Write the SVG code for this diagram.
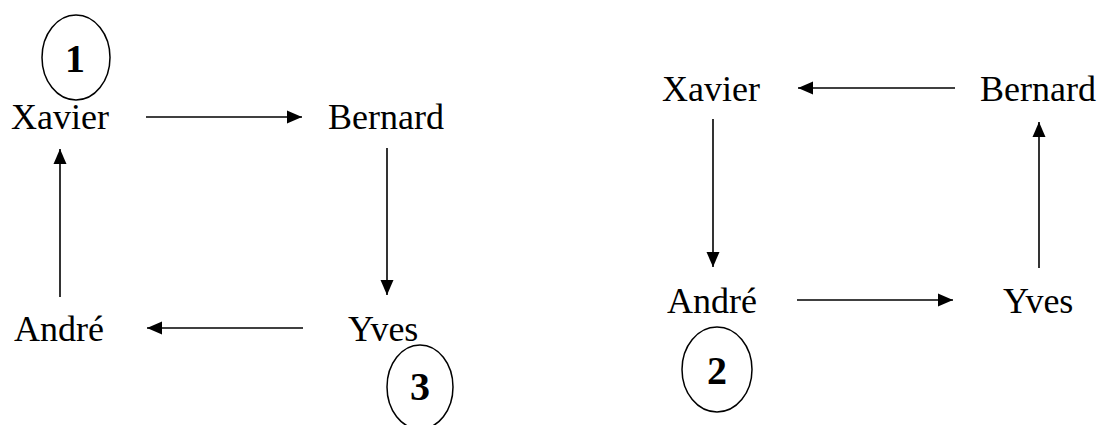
<svg xmlns="http://www.w3.org/2000/svg" width="1100" height="425" viewBox="0 0 1100 425">
<style>
.n{font-family:"Liberation Serif","Times New Roman",serif;font-size:36px;fill:#000}
.d{font-family:"Liberation Serif","Times New Roman",serif;font-size:40px;font-weight:bold;fill:#000;text-anchor:middle}
.c{fill:none;stroke:#000;stroke-width:1.5}
.e{stroke:#000;stroke-width:1.6;fill:none;marker-end:url(#ah)}
</style>
<defs>
<marker id="ah" markerUnits="userSpaceOnUse" markerWidth="16" markerHeight="14" refX="15" refY="7" orient="auto">
<path d="M0,0.5 L15,7 L0,13.5 Z" fill="#000"/>
</marker>
</defs>
<rect width="1100" height="425" fill="#fff"/>
<g id="left-xavier"><text class="n" x="11" y="129">Xavier</text></g>
<g id="left-bernard"><text class="n" x="328" y="129">Bernard</text></g>
<g id="left-andre"><text class="n" x="14" y="341">André</text></g>
<g id="left-yves"><text class="n" x="348" y="341">Yves</text></g>
<g id="badge-1"><ellipse class="c" cx="76" cy="57.5" rx="34" ry="42.5"/><text class="d" x="75" y="72">1</text></g>
<g id="badge-3"><ellipse class="c" cx="420" cy="387" rx="33" ry="42"/><text class="d" x="420" y="400">3</text></g>
<g id="right-xavier"><text class="n" x="662" y="101">Xavier</text></g>
<g id="right-bernard"><text class="n" x="980" y="101">Bernard</text></g>
<g id="right-andre"><text class="n" x="667" y="313">André</text></g>
<g id="right-yves"><text class="n" x="1003" y="313">Yves</text></g>
<g id="badge-2"><ellipse class="c" cx="717" cy="369.5" rx="35" ry="42.5"/><text class="d" x="717" y="384">2</text></g>
<g id="connectors">
<line class="e" x1="146" y1="117" x2="302" y2="117"/>
<line class="e" x1="387" y1="148" x2="387" y2="295"/>
<line class="e" x1="303" y1="328" x2="147" y2="328"/>
<line class="e" x1="60" y1="297" x2="60" y2="149"/>
<line class="e" x1="955" y1="88" x2="798" y2="88"/>
<line class="e" x1="713" y1="119" x2="713" y2="267"/>
<line class="e" x1="797" y1="300" x2="953" y2="300"/>
<line class="e" x1="1039" y1="268" x2="1039" y2="122"/>
</g>
</svg>
